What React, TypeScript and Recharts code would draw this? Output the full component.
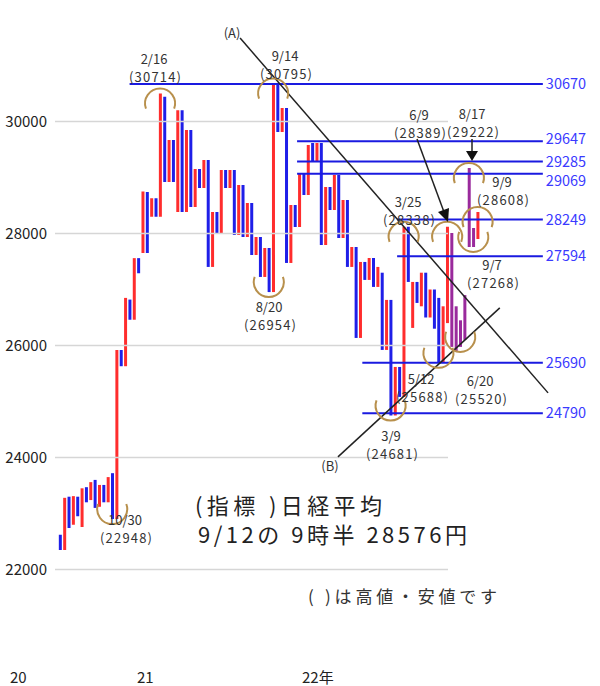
import { ComposedChart, Bar, Cell, XAxis, YAxis, ReferenceLine, ReferenceDot } from 'recharts';

const FONT = '"Noto Sans CJK JP", "Noto Sans", sans-serif';
const RED = '#ff2d2d';
const BLUE = '#1f1fe8';
const PURPLE = '#9a2a9c';
const LINE_BLUE = '#1a1ae0';
const ARC = '#b8904c';

// weekly bars, oldest first (R = up, B = down, P = overlapping at the end)
const DIR = [
  'B', 'R', 'B', 'R', 'B', 'R', 'B', 'R', 'B', 'R',
  'B', 'R', 'B', 'R', 'B', 'R', 'B', 'R', 'B', 'R',
  'B', 'R', 'B', 'R', 'B', 'R', 'B', 'R', 'B', 'R',
  'B', 'R', 'B', 'R', 'B', 'R', 'B', 'R', 'B', 'R',
  'B', 'R', 'B', 'R', 'B', 'R', 'B', 'R', 'B', 'R',
  'B', 'R', 'B', 'R', 'B', 'R', 'B', 'R', 'B', 'R',
  'B', 'R', 'B', 'R', 'B', 'R', 'B', 'R', 'B', 'R',
  'B', 'R', 'B', 'R', 'B', 'R', 'B', 'R', 'B', 'R',
  'B', 'R', 'B', 'R', 'B', 'R', 'B', 'B', 'R', 'R',
  'P', 'P', 'P', 'P', 'P', 'P', 'R',
];
const LOW = [
  22350, 22350, 22740, 22800, 22950, 22760, 23200, 23240, 23100, 23120,
  23200, 23200, 22900, 22900, 25630, 25630, 26460, 26460, 27290, 27650,
  27650, 28300, 28300, 28300, 28920, 28920, 28920, 28385, 28385, 28385,
  28474, 28474, 28813, 28813, 27403, 27403, 28010, 28010, 28813, 28813,
  27974, 27974, 27938, 27938, 27617, 27617, 27224, 27224, 26954, 26954,
  29813, 29813, 27474, 27474, 28117, 28117, 28688, 28688, 29277, 29277,
  27796, 27796, 28420, 28420, 27920, 27920, 27403, 27403, 26135, 26135,
  27171, 27171, 27046, 27046, 25921, 25921, 24750, 24750, 25082, 25082,
  27135, 26314, 26760, 26700, 26500, 26500, 26300, 25690, 25690, 26400,
  25975, 25900, 25975, 26100, 27760, 27760, 27900,
];
const HIGH = [
  22620, 23280, 23300, 23310, 23300, 23450, 23470, 23560, 23600, 23510,
  23510, 23650, 23720, 25920, 25920, 26850, 26820, 27560, 27560, 28750,
  28740, 28630, 28630, 30500, 30440, 29670, 29670, 30200, 30200, 29850,
  29850, 29150, 29150, 29313, 29313, 28385, 28385, 29134, 29134, 29134,
  29134, 28867, 28867, 28545, 28545, 27938, 27938, 27742, 27742, 30680,
  30680, 30241, 30241, 28509, 28509, 29081, 29081, 29581, 29616, 29616,
  29616, 28831, 28831, 29045, 29045, 28600, 28600, 27760, 27760, 27492,
  27492, 27563, 27563, 27403, 27300, 26814, 26814, 25617, 25617, 28120,
  28120, 27135, 27135, 27300, 27300, 27000, 27000, 26850, 26700, 28120,
  28010, 26700, 26450, 26900, 29170, 28100, 28385,
];

const Y_TICKS = [22000, 24000, 26000, 28000, 30000];

// support / resistance levels: [value, first bar index]
const LEVELS: [number, number][] = [
  [30670, 16], [29647, 54.5], [29285, 54.5], [29069, 54.5],
  [28249, 77.5], [27594, 77.5], [25690, 69.5], [24790, 69.5],
];
const LEVEL_END = 111;
// small vertical nudges so the close labels don't collide
const LABEL_NUDGE: Record<number, number> = { 29647: -2, 29069: 7 };

// trend lines (A) and (B): [x1, y1, x2, y2] in bar index / price
const TREND_A = [41.4, 31490, 112.2, 25154];
const TREND_B = [63.9, 24011, 101.1, 26671];

// circled highs and lows: [bar index, price, kind]
const MARKS: [number, number, 'top' | 'bottom'][] = [
  [23, 30500, 'top'], [49, 30680, 'top'], [79, 28120, 'top'], [89, 28120, 'top'],
  [94, 29170, 'top'], [96, 28385, 'top'],
  [12, 22900, 'bottom'], [48, 26954, 'bottom'], [76, 24750, 'bottom'],
  [87, 25690, 'bottom'], [92, 25975, 'bottom'], [95, 27760, 'bottom'],
];

// date / price notes: [date, price, x, y]
const NOTES: [string, string, number, number][] = [
  ['2/16', '30714', 154, 59],
  ['9/14', '30795', 285, 56],
  ['8/20', '26954', 269, 307],
  ['10/30', '22948', 125, 520],
  ['3/9', '24681', 391, 436],
  ['3/25', '28338', 408, 202],
  ['6/9', '28389', 419, 115],
  ['8/17', '29222', 472, 114],
  ['9/9', '28608', 502, 182],
  ['9/7', '27268', 492, 265],
  ['5/12', '25688', 421, 379],
  ['6/20', '25520', 480, 381],
];

const X_LABELS: [string, number][] = [['20', 10], ['21', 137], ['22年', 302]];

const XMIN = -1.15;
const XMAX = 124.14;

const data = DIR.map((d, i) => ({ i, range: [LOW[i], HIGH[i]], dir: d }));

const colorOf = (d: string) => (d === 'R' ? RED : d === 'B' ? BLUE : PURPLE);

const arcShape = (kind: 'top' | 'bottom') => (p: any) => {
  const { cx, cy } = p;
  const r = 15;
  const c = kind === 'top' ? cy + 10 : cy - 10;
  const dx = r * Math.cos(Math.PI / 9);
  const dy = r * Math.sin(Math.PI / 9);
  const d = kind === 'top'
    ? `M${cx - dx},${c + dy} A${r},${r} 0 1 1 ${cx + dx},${c + dy}`
    : `M${cx - dx},${c - dy} A${r},${r} 0 1 0 ${cx + dx},${c - dy}`;
  return <path d={d} fill="none" stroke={ARC} strokeWidth={2} />;
};

const levelLabel = (v: number) => (p: any) => {
  const vb = p.viewBox || {};
  return (
    <text
      x={vb.x + vb.width + 3} y={vb.y + (LABEL_NUDGE[v] || 0)} dy="0.36em"
      fill="#3a3aff" fontSize={14.5} fontFamily={FONT}
    >
      {v}
    </text>
  );
};

export default function App() {
  return (
    <div style={{ position: 'absolute', left: 0, top: 0, width: 600, height: 686, background: '#fff', fontFamily: FONT }}>
      <ComposedChart width={600} height={686} data={data} margin={{ top: 9.5, right: 0, bottom: 32.5, left: 0 }}>
        <XAxis type="number" dataKey="i" domain={[XMIN, XMAX]} hide allowDataOverflow />
        <YAxis
          type="number" domain={[20500, 32000]} ticks={Y_TICKS} width={55}
          axisLine={false} tickLine={false} allowDataOverflow
          tick={{ fontSize: 15, fill: '#222', fontFamily: FONT }}
        />
        {Y_TICKS.map(t => (
          <ReferenceLine key={t} segment={[{ x: XMIN, y: t }, { x: 89.2, y: t }]} stroke="#d6d6d6" strokeWidth={1.5} />
        ))}
        <Bar dataKey="range" barSize={3} isAnimationActive={false}>
          {data.map((d, i) => <Cell key={i} fill={colorOf(d.dir)} />)}
        </Bar>
        {LEVELS.map(([v, x0]) => (
          <ReferenceLine
            key={v}
            segment={[{ x: x0, y: v }, { x: LEVEL_END, y: v }]}
            stroke={LINE_BLUE}
            strokeWidth={2}
            label={levelLabel(v)}
          />
        ))}
        <ReferenceLine segment={[{ x: TREND_A[0], y: TREND_A[1] }, { x: TREND_A[2], y: TREND_A[3] }]} stroke="#222" strokeWidth={1.5} />
        <ReferenceLine segment={[{ x: TREND_B[0], y: TREND_B[1] }, { x: TREND_B[2], y: TREND_B[3] }]} stroke="#222" strokeWidth={1.5} />
        {MARKS.map(([x, y, k], i) => (
          <ReferenceDot key={i} x={x} y={y} r={15} shape={arcShape(k)} />
        ))}
      </ComposedChart>
      <svg width={600} height={686} style={{ position: 'absolute', left: 0, top: 0, pointerEvents: 'none' }} fontFamily={FONT}>
        {NOTES.map(([d, v, x, y]) => (
          <g key={d} fill="#333" fontSize={13} textAnchor="middle">
            <text x={x} y={y + 5}>{d}</text>
            <text x={x + 1} y={y + 23} textLength={52} lengthAdjust="spacing">({v})</text>
          </g>
        ))}
        <text x={232} y={38} fontSize={13} fill="#333" textAnchor="middle">(A)</text>
        <text x={330} y={471} fontSize={13} fill="#333" textAnchor="middle">(B)</text>
        {/* arrows */}
        <line x1={417} y1={139} x2={444} y2={212} stroke="#222" strokeWidth={1.5} />
        <polygon points="448,222 438,212 449,208" fill="#111" />
        <line x1={472} y1={139} x2={472} y2={152} stroke="#222" strokeWidth={1.5} />
        <polygon points="466,151 478,151 472,161" fill="#111" />
        <text x={195} y={514} fontSize={22} fill="#222" textLength={187} lengthAdjust="spacing">(指標 )日経平均</text>
        <text x={198} y={543} fontSize={22} fill="#222" textLength={269} lengthAdjust="spacing">9/12の 9時半 28576円</text>
        <text x={308} y={603} fontSize={17} fill="#333" textLength={189} lengthAdjust="spacing">( )は高値・安値です</text>
        {X_LABELS.map(([t, x]) => (
          <text key={t} x={x} y={683} fontSize={15} fill="#222">{t}</text>
        ))}
      </svg>
    </div>
  );
}
